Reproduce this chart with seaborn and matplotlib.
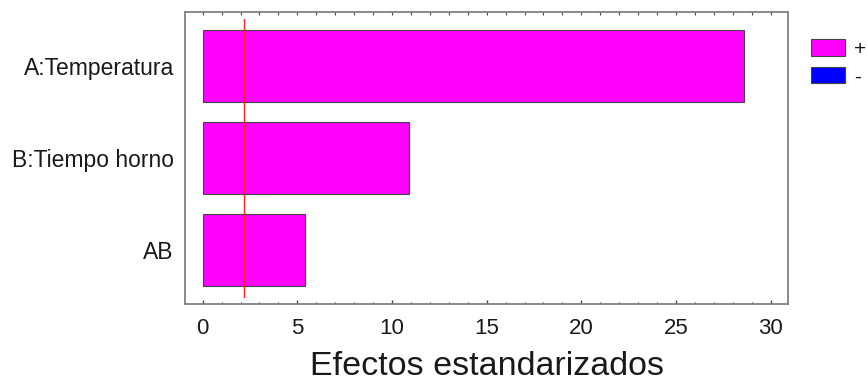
import matplotlib
matplotlib.use("Agg")
import matplotlib.pyplot as plt
import numpy as np
import pandas as pd
import seaborn as sns
from matplotlib.patches import Patch
from matplotlib.ticker import MultipleLocator, NullFormatter


factors = ["A:Temperatura", "B:Tiempo horno", "AB"]
effects = [28.6, 10.9, 5.4]
signs = ["+", "+", "+"]
critical_value = 2.2

sign_colors = {"+": "#ff00ff", "-": "#0000ff"}

sns.set_style("white")
plt.rcParams["font.family"] = ["Liberation Sans", "DejaVu Sans"]
plt.rcParams["text.color"] = "#1a1a1a"

df = pd.DataFrame({"factor": factors, "effect": effects, "sign": signs})

fig = plt.figure(figsize=(8.67, 3.83), dpi=100)
ax = fig.add_axes([185 / 867, 79 / 383, 603 / 867, 292 / 383])

sns.barplot(
    data=df,
    x="effect",
    y="factor",
    hue="sign",
    palette=sign_colors,
    saturation=1,
    orient="h",
    width=0.79,
    edgecolor="#444444",
    linewidth=0.8,
    legend=False,
    ax=ax,
)

ax.axvline(critical_value, ymin=0.025, ymax=0.975, color="#ff2020", linewidth=1)

ax.set_xlim(-0.935, 30.92)
ax.set_ylim(2.587, -0.587)
ax.xaxis.set_major_locator(MultipleLocator(5))
ax.xaxis.set_minor_locator(MultipleLocator(1))
ax.tick_params(axis="x", which="both", direction="in", bottom=True,
               color="#444444", labelsize=16, labelcolor="#1a1a1a", pad=10)
ax.tick_params(axis="x", which="major", length=3.2, width=1)
ax.tick_params(axis="x", which="minor", length=1.6, width=0.8)
ax.tick_params(axis="y", length=0, labelsize=16.5, labelcolor="#1a1a1a", pad=8)

top = ax.secondary_xaxis("top")
top.xaxis.set_major_locator(MultipleLocator(1))
top.xaxis.set_major_formatter(NullFormatter())
top.tick_params(direction="in", length=2.4, width=0.8, color="#444444")
top.spines["top"].set_visible(False)

for spine in ax.spines.values():
    spine.set_color("#808080")
    spine.set_linewidth(1.3)

ax.set_ylabel("")
ax.set_xlabel("Efectos estandarizados", fontsize=24.5, labelpad=9, color="#1a1a1a")

handles = [Patch(facecolor=sign_colors[s], edgecolor="#444444", linewidth=0.8, label=s)
           for s in ["+", "-"]]
fig.legend(handles=handles, loc="upper left", bbox_to_anchor=(811 / 867, 1 - 39 / 383),
           frameon=False, fontsize=15, handlelength=1.65, handleheight=0.85,
           handletextpad=0.4, labelspacing=0.4, borderaxespad=0, borderpad=0)

fig.savefig("out.png", dpi=100)
